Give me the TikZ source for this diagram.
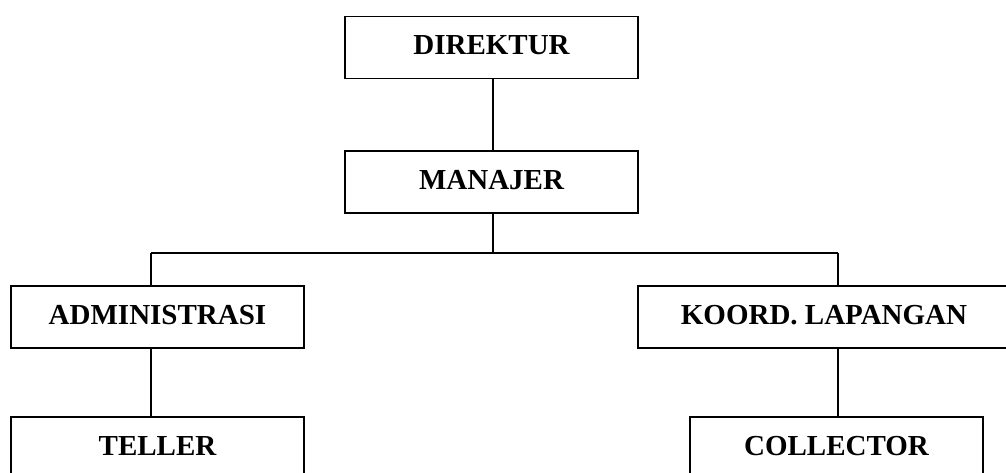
\documentclass[tikz,border=0pt]{standalone}
\usepackage{fontspec}
\setmainfont{Liberation Serif}
\usepackage{tikz}
\usetikzlibrary{positioning}
\tikzstyle{block} = [rectangle, draw, line width=1.8pt, inner sep=0pt,
    minimum width=293pt, minimum height=62pt, text depth=5pt,
    font=\fontsize{29}{34}\selectfont\bfseries]
\tikzstyle{edge} = [draw, line width=1.8pt]

\begin{document}
\begin{tikzpicture}[x=1pt, y=1pt, node distance=134pt]
  \useasboundingbox (0,0) rectangle (1006,-472);

  % Place nodes
  \node [block] at (491.5,-47.5) (direktur) {DIREKTUR};
  \node [block, below of=direktur, node distance=134.5pt] (manajer) {MANAJER};

  \node [block] at (157.5,-317) (admin) {ADMINISTRASI};
  \node [block, minimum width=372pt] at (824,-317) (koord) {KOORD. LAPANGAN};

  \node [block, below of=admin, node distance=131pt] (teller) {TELLER};
  \node [block, below of=koord, node distance=131pt, xshift=12.5pt] (collector) {COLLECTOR};

  % Branch points
  \coordinate (hub) at (493,-253);
  \coordinate (forkL) at (151,-253);
  \coordinate (forkR) at (838,-253);

  % Connectors
  \path [edge] (direktur.south -| hub) -- (manajer.north -| hub);
  \path [edge] (manajer.south -| hub) -- (hub);
  \path [edge] (forkL) -- (forkR);
  \path [edge] (forkL) -- (admin.north -| forkL);
  \path [edge] (forkR) -- (koord.north -| forkR);
  \path [edge] (admin.south -| forkL) -- (teller.north -| forkL);
  \path [edge] (koord.south -| forkR) -- (collector.north -| forkR);

\end{tikzpicture}
\end{document}
